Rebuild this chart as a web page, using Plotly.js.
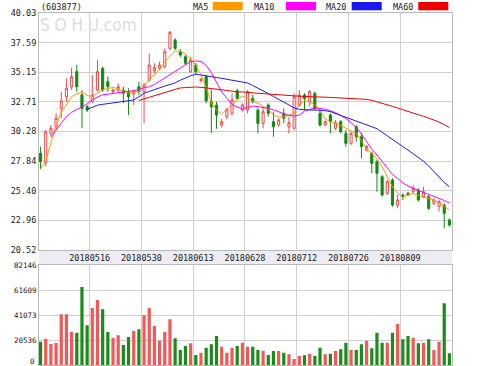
<!DOCTYPE html>
<html><head><meta charset="utf-8">
<script src="https://cdn.plot.ly/plotly-3.0.1.min.js"></script>
<style>html,body{margin:0;padding:0;background:#fff;}#c{width:499px;height:366px;}</style>
</head><body><div id="c"></div>
<script>
const dates = ['20180502','20180503','20180504','20180507','20180508','20180509','20180510','20180511','20180514','20180515',
'20180516','20180517','20180518','20180521','20180522','20180523','20180524','20180525','20180528','20180529',
'20180530','20180531','20180601','20180604','20180605','20180606','20180607','20180608','20180611','20180612',
'20180613','20180614','20180615','20180619','20180620','20180621','20180622','20180625','20180626','20180627',
'20180628','20180629','20180702','20180703','20180704','20180705','20180706','20180709','20180710','20180711',
'20180712','20180713','20180716','20180717','20180718','20180719','20180720','20180723','20180724','20180725',
'20180726','20180727','20180730','20180731','20180801','20180802','20180803','20180806','20180807','20180808',
'20180809','20180810','20180813','20180814','20180815','20180816','20180817','20180820','20180821','20180822'];
const openP = [28.48,27.68,30.13,30.67,32.18,33.14,33.96,35.20,33.28,32.32,
32.73,33.69,35.48,34.37,33.55,33.69,33.69,33.55,33.36,33.96,
33.55,34.51,35.26,35.48,35.61,37.12,37.81,36.84,36.43,35.20,
35.75,34.46,34.80,32.73,32.46,30.81,31.49,31.77,33.63,32.05,
32.04,33.00,32.04,30.95,32.46,31.08,30.81,31.77,30.67,30.54,
32.46,33.28,32.73,33.42,31.77,30.81,31.63,30.54,31.08,30.12,
29.30,30.67,29.85,28.75,28.48,27.79,26.56,25.19,26.28,24.22,
25.05,25.19,25.32,25.46,24.91,24.91,24.36,24.09,24.22,22.99];
const highP = [29.02,30.40,30.81,31.77,33.55,34.65,35.53,35.75,33.69,32.46,
34.92,36.16,35.61,34.79,33.83,34.24,33.96,33.83,33.69,34.37,
34.27,36.71,35.89,36.02,37.12,38.55,37.95,37.07,36.57,36.43,
35.90,34.70,34.95,33.69,32.73,31.30,32.20,33.42,33.80,32.60,
33.69,33.28,32.18,32.32,32.59,31.91,31.36,32.18,31.49,33.42,
33.69,33.42,33.69,33.55,32.04,31.20,31.77,31.22,31.22,30.40,
30.26,30.81,30.12,29.16,28.62,27.93,26.69,26.28,26.42,25.05,
25.19,25.30,25.87,25.60,25.73,25.05,24.77,24.64,24.36,23.13];
const lowP = [27.16,27.38,29.90,30.40,31.36,32.73,33.69,33.55,30.54,31.88,
32.60,33.55,33.55,33.55,33.42,33.42,32.60,31.63,32.46,33.28,
30.95,34.37,35.07,35.34,35.48,36.98,36.98,36.41,35.75,35.09,
35.00,34.30,32.60,30.15,30.50,30.60,31.30,31.63,32.90,31.90,
31.77,32.59,30.12,30.54,31.50,29.85,30.67,30.95,30.12,30.40,
32.32,32.04,32.32,32.04,30.67,30.70,30.12,30.40,30.12,29.03,
29.16,29.44,28.07,28.62,26.83,25.32,24.91,25.05,24.09,23.95,
24.64,25.00,25.19,24.50,24.77,23.81,24.22,23.68,22.30,22.44];
const closeP = [27.79,30.23,30.54,31.36,32.79,33.83,34.79,33.96,32.18,32.05,
33.28,35.20,33.69,33.96,33.69,33.96,33.42,33.14,33.55,33.55,
34.10,35.75,35.53,35.75,36.84,38.44,37.12,36.57,35.89,36.16,
35.20,34.57,32.80,32.32,31.63,31.08,32.10,32.87,33.01,32.46,
33.55,32.73,30.95,31.91,31.77,30.67,31.22,31.36,31.00,33.14,
33.28,33.00,33.55,32.18,30.81,31.08,31.08,31.00,30.26,29.30,
30.12,29.85,29.03,29.03,27.65,26.83,25.05,26.14,24.22,24.64,
24.91,25.05,25.60,24.64,25.32,23.95,24.64,24.50,23.54,22.58];
const volume = [19390,21850,17510,18330,41810,41810,27330,26750,64150,32810,
46960,53510,45900,27330,22420,24630,16690,23240,28150,29540,
40990,46960,32240,20210,27330,37720,22170,12600,15870,18080,
8510,10390,14480,17260,24050,15300,10390,14480,15870,18570,
15300,15300,12600,12030,8510,11780,11780,10390,9080,5240,
7690,8260,9570,7690,14480,9080,9570,11780,13170,18570,
12600,12600,17260,20210,13990,26750,18570,18570,26750,33870,
21350,24050,22660,18080,18570,21350,12600,19390,50810,9900];
const ma5 = [27.2,27.85,29.33,30.81,31.84,32.54,33.15,33.36,33.50,33.25,
33.14,33.44,33.72,33.81,33.91,33.77,33.61,33.44,33.48,33.58,
33.98,34.61,34.94,35.34,36.00,36.44,36.90,36.88,36.65,36.26,
35.75,34.93,33.94,32.62,32.04,31.71,32.13,32.50,32.87,33.20,
33.03,32.75,32.62,32.37,32.09,31.63,31.47,31.47,31.63,31.80,
32.46,32.83,32.70,32.46,32.04,31.30,31.10,30.97,30.77,30.56,
30.36,30.11,29.53,28.87,28.46,28.01,27.39,26.61,25.71,25.21,
24.88,25.05,25.17,25.01,24.88,24.76,24.64,24.39,24.14,23.81];
const ma10 = [null,null,29.82,30.44,30.97,31.50,31.86,32.09,32.29,32.56,
32.89,33.11,33.29,33.35,33.40,33.46,33.52,33.58,33.64,33.72,
33.88,33.96,34.15,34.41,34.69,34.98,35.26,35.52,35.77,36.02,
36.08,36.05,35.73,35.13,34.37,33.53,33.02,32.50,32.29,32.15,
32.25,32.37,32.32,32.26,32.18,32.06,31.88,31.74,31.61,31.55,
31.63,31.96,32.09,32.21,32.17,32.11,31.98,31.83,31.60,31.34,
31.00,30.60,30.07,29.47,28.83,28.34,27.79,27.24,26.75,26.41,
26.05,25.79,25.60,25.44,25.25,25.10,24.96,24.77,24.59,24.39];
const ma20 = [null,null,null,null,null,null,null,null,null,32.10,
32.29,32.44,32.51,32.57,32.64,32.70,32.75,32.81,32.87,33.13,
33.42,33.57,33.73,33.90,34.02,34.14,34.28,34.50,34.69,34.86,
34.99,34.91,34.83,34.78,34.72,34.65,34.58,34.50,34.43,34.35,
34.27,34.06,33.86,33.63,33.40,33.16,32.91,32.67,32.46,32.22,
32.10,32.04,32.04,32.04,32.02,31.99,31.91,31.76,31.61,31.46,
31.32,31.16,31.00,30.84,30.68,30.51,30.21,29.90,29.61,29.32,
29.03,28.75,28.46,28.14,27.82,27.44,26.98,26.53,26.08,25.71];
const ma60 = [null,null,null,null,null,null,null,null,null,null,
null,null,null,null,null,null,null,null,null,32.83,
32.95,33.07,33.20,33.35,33.49,33.61,33.74,33.86,33.89,33.92,
33.94,33.91,33.87,33.84,33.77,33.71,33.65,33.58,33.53,33.53,
33.51,33.47,33.44,33.39,33.36,33.32,33.28,33.26,33.23,33.21,
33.18,33.16,33.13,33.12,33.12,33.10,33.08,33.06,33.05,33.03,
33.03,33.01,32.97,32.92,32.84,32.73,32.60,32.47,32.34,32.21,
32.06,31.92,31.78,31.65,31.53,31.39,31.24,31.06,30.84,30.60];
const priceTicks = [20.52,22.96,25.40,27.84,30.28,32.71,35.15,37.59,40.03];
const volTicks = [0,20536,41073,61609,82146];
const labelDates = ['20180516','20180530','20180613','20180628','20180712','20180726','20180809'];
const stockCode = '(603877)';
const watermark = 'S O H U.com';
const maNames = ['MA5','MA10','MA20','MA60'];
const maColors = ['#ff9900','#ff00ff','#1a1aee','#ee0000'];

const idx = dates.map((d,i)=>i);
const tickPos = labelDates.map(d=>dates.indexOf(d)-0.5);
const RED='#f04848', GREEN='#108a10';
const volColors = idx.map(i=> closeP[i]>=openP[i] ? '#f25858' : '#1a8c1a');

const traces = [
 {type:'candlestick', x:idx, open:openP, high:highP, low:lowP, close:closeP, xaxis:'x', yaxis:'y',
  increasing:{line:{color:RED,width:1}, fillcolor:'#ffffff'},
  decreasing:{line:{color:GREEN,width:1}, fillcolor:GREEN},
  whiskerwidth:0, hoverinfo:'skip'},
];
[ma5,ma10,ma20,ma60].forEach((m,k)=>traces.push({type:'scatter',mode:'lines',x:idx,y:m,xaxis:'x',yaxis:'y',
  line:{color:maColors[k],width:1}, connectgaps:false, hoverinfo:'skip'}));
traces.push({type:'bar', x:idx, y:volume, xaxis:'x2', yaxis:'y2', marker:{color:volColors, line:{width:0}}, width:0.62, hoverinfo:'skip'});

const H=366, T=13, B=0, plotH=H-T-B, L=39, R=452, plotW=R-L;
const px=x=>(x-L)/plotW, py=y=>(H-B-y)/plotH;
const gridC='#d0d0d0', lineC='#bababa';
const tf={family:'DejaVu Sans Mono, monospace', size:8.5, color:'#222'};
const vf={family:'DejaVu Sans Mono, monospace', size:7.5, color:'#222'};

const axX = {range:[-0.3,79.5], tickvals:tickPos, showgrid:true, gridcolor:gridC, gridwidth:1, zeroline:false,
  showline:true, mirror:true, linecolor:lineC, linewidth:1, ticks:'', fixedrange:true};
const layout = {
  width:499, height:366, margin:{l:L, r:499-R, t:T, b:B},
  paper_bgcolor:'#ffffff', plot_bgcolor:'#ffffff', showlegend:false, boxgap:0.42,
  xaxis: Object.assign({}, axX, {domain:[0,1], anchor:'y', ticktext:labelDates, tickfont:tf, rangeslider:{visible:false}}),
  yaxis: {domain:[py(250),1], range:[20.52,40.03], tickvals:priceTicks, ticktext:priceTicks.map(v=>v.toFixed(2)),
    showgrid:true, gridcolor:gridC, gridwidth:1, zeroline:false, showline:true, mirror:true, linecolor:lineC, linewidth:1,
    ticks:'', tickfont:tf, fixedrange:true},
  xaxis2: Object.assign({}, axX, {domain:[0,1], anchor:'y2', showticklabels:false}),
  yaxis2: {domain:[py(365.4),py(265)], range:[0,82146], tickvals:volTicks, ticktext:volTicks.map(v=>v===0?'':String(v)),
    showgrid:true, gridcolor:gridC, gridwidth:1, zeroline:false, showline:true, mirror:true, linecolor:lineC, linewidth:1,
    ticks:'', tickfont:vf, fixedrange:true},
  shapes:[
    {type:'rect', xref:'paper', yref:'paper', x0:0, x1:1, y0:py(265), y1:py(250), fillcolor:'#ececf2', line:{width:0}, layer:'below'}
  ],
  annotations:[
    {xref:'paper', yref:'paper', x:px(38), y:py(25), xanchor:'left', yanchor:'middle', showarrow:false,
     text:watermark, font:{family:'Liberation Sans Narrow, DejaVu Sans Condensed, Liberation Sans', size:17, color:'#dcdcdc'}},
    {xref:'paper', yref:'paper', x:px(39), y:py(6.7), xanchor:'left', yanchor:'middle', showarrow:false,
     text:stockCode, font:tf},
    {xref:'paper', yref:'paper', x:px(37), y:py(361), xanchor:'right', yanchor:'middle', showarrow:false,
     text:String(volTicks[0]), font:vf}
  ]
};
const legX = [191.7,253,325,391.7], boxX=[212.7,286,351.7,418.3];
maNames.forEach((n,k)=>{
  layout.annotations.push({xref:'paper', yref:'paper', x:px(legX[k]-1), y:py(6.7), xanchor:'left', yanchor:'middle', showarrow:false,
    text:n, font:tf});
  layout.shapes.push({type:'rect', xref:'paper', yref:'paper', x0:px(boxX[k]), x1:px(boxX[k]+30), y0:py(10.3), y1:py(2),
    fillcolor:maColors[k], line:{width:0}});
});
Plotly.newPlot('c', traces, layout, {staticPlot:true, displayModeBar:false});
</script></body></html>
